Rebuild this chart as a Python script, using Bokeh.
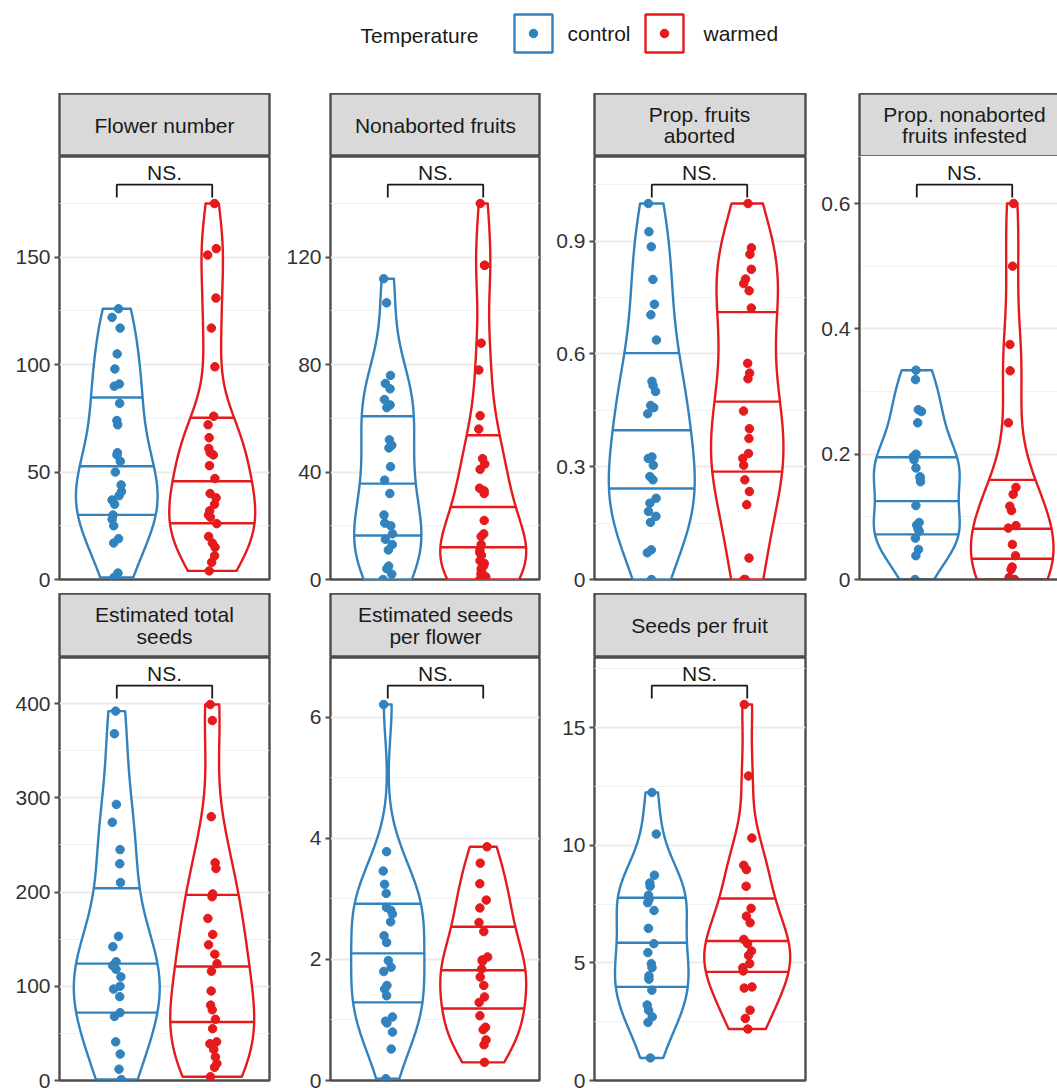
import numpy as np
from bokeh.plotting import figure
from bokeh.layouts import column, row
from bokeh.models import Range1d, FixedTicker, LinearAxis, ColumnDataSource, CustomJSTickFormatter
from bokeh.transform import jitter
from bokeh.core.properties import value
from bokeh.embed import file_html
from bokeh.resources import INLINE

# ---------------- data ----------------
groups = ["control", "warmed"]

flower_control = [126, 122, 117, 105, 98, 91, 90, 82, 74, 72, 59, 58, 55, 50, 44, 41, 39, 37, 35, 30, 28, 25, 19, 17, 3, 1]
flower_warmed = [175, 154, 151, 131, 117, 99, 76, 72, 66, 61, 59, 58, 53, 47, 40, 38, 35, 32, 30, 29, 26, 20, 17, 15, 11, 8, 4]

fruits_control = [112, 103, 76, 73, 71, 67, 65, 64, 52, 50, 49, 42, 37, 32, 24, 21, 20, 17, 15, 13, 11, 5, 4, 2, 0]
fruits_warmed = [140, 117, 117, 88, 78, 61, 56, 45, 43, 41, 34, 33, 32, 22, 17, 16, 13, 11, 10, 9, 7, 6, 5, 4, 3, 2, 1, 0]

aborted_control = [1.0, 0.925, 0.885, 0.798, 0.732, 0.704, 0.637, 0.527, 0.516, 0.500, 0.463, 0.457, 0.441,
                   0.326, 0.322, 0.304, 0.274, 0.265, 0.216, 0.203, 0.181, 0.168, 0.152, 0.079, 0.071, 0.0]
aborted_warmed = [1.0, 0.882, 0.865, 0.825, 0.799, 0.787, 0.768, 0.722, 0.575, 0.549, 0.534, 0.448, 0.401,
                  0.375, 0.335, 0.322, 0.304, 0.265, 0.234, 0.199, 0.057, 0.0, 0.0]

infested_control = [0.334, 0.319, 0.271, 0.268, 0.250, 0.200, 0.196, 0.191, 0.178, 0.164, 0.162, 0.156, 0.118,
                    0.091, 0.087, 0.081, 0.077, 0.066, 0.048, 0.038, 0.0]
infested_warmed = [0.6, 0.5, 0.375, 0.333, 0.25, 0.147, 0.136, 0.117, 0.110, 0.086, 0.082, 0.056, 0.038,
                   0.020, 0.016, 0.003, 0.0, 0.0, 0.0]

seeds_control = [392, 368, 293, 274, 245, 230, 210, 153, 142, 126, 122, 118, 110, 100, 97, 89, 72, 68, 41, 28, 12, 1]
seeds_warmed = [399, 382, 280, 231, 225, 198, 195, 172, 155, 144, 134, 124, 116, 95, 80, 75, 65, 55, 41, 39, 33,
                25, 18, 14, 4]

perflower_control = [6.21, 3.78, 3.46, 3.24, 3.09, 2.86, 2.81, 2.75, 2.62, 2.39, 2.28, 1.98, 1.87, 1.80, 1.57,
                     1.51, 1.40, 1.05, 0.98, 0.95, 0.80, 0.52, 0.03]
perflower_warmed = [3.86, 3.59, 3.25, 2.98, 2.85, 2.61, 2.46, 2.04, 1.99, 1.97, 1.84, 1.71, 1.57, 1.38, 1.29,
                    1.07, 0.88, 0.84, 0.67, 0.59, 0.30]

perfruit_control = [12.25, 10.48, 8.73, 8.40, 8.26, 7.88, 7.70, 7.56, 7.23, 6.47, 5.82, 5.44, 4.97, 4.80, 4.45,
                    4.31, 3.84, 3.21, 2.99, 2.71, 2.47, 0.96]
perfruit_warmed = [15.99, 12.95, 10.31, 9.15, 8.97, 8.26, 7.32, 6.99, 6.71, 6.00, 5.82, 5.51, 5.32, 4.97, 4.80,
                   4.66, 3.98, 3.93, 2.99, 2.64, 2.19]

# 25th / 50th / 75th percentile lines drawn inside each violin
quart_flower_control = [30.1, 52.7, 84.7]
quart_flower_warmed = [26.2, 45.7, 75.3]
quart_fruits_control = [16.4, 35.7, 60.8]
quart_fruits_warmed = [12.0, 27.0, 53.7]
quart_aborted_control = [0.242, 0.397, 0.602]
quart_aborted_warmed = [0.287, 0.473, 0.711]
quart_infested_control = [0.072, 0.125, 0.195]
quart_infested_warmed = [0.033, 0.081, 0.159]
quart_seeds_control = [72, 124, 204]
quart_seeds_warmed = [62, 121, 197]
quart_perflower_control = [1.29, 2.10, 2.92]
quart_perflower_warmed = [1.19, 1.82, 2.54]
quart_perfruit_control = [3.98, 5.86, 7.77]
quart_perfruit_warmed = [4.62, 5.93, 7.74]

titles = ["Flower number", "Nonaborted fruits", "Prop. fruits\naborted", "Prop. nonaborted\nfruits infested",
          "Estimated total\nseeds", "Estimated seeds\nper flower", "Seeds per fruit"]

ticks_flower = [0, 50, 100, 150]
ticks_fruits = [0, 40, 80, 120]
ticks_aborted = [0, 0.3, 0.6, 0.9]
ticks_infested = [0, 0.2, 0.4, 0.6]
ticks_seeds = [0, 100, 200, 300, 400]
ticks_perflower = [0, 2, 4, 6]
ticks_perfruit = [0, 5, 10, 15]

labels_flower = ["0", "50", "100", "150"]
labels_fruits = ["0", "40", "80", "120"]
labels_aborted = ["0", "0.3", "0.6", "0.9"]
labels_infested = ["0", "0.2", "0.4", "0.6"]
labels_seeds = ["0", "100", "200", "300", "400"]
labels_perflower = ["0", "2", "4", "6"]
labels_perfruit = ["0", "5", "10", "15"]

significance = ["NS.", "NS.", "NS.", "NS.", "NS.", "NS.", "NS."]

# ---------------- style ----------------
FONT = value("Liberation Sans")
COLORS = {"control": "#3182BD", "warmed": "#E41A1C"}
BORDER = "#4D4D4D"
TEXT = "#1A1A1A"
FS = "21px"
LW = 2.4

panels = [
    (titles[0], flower_control, flower_warmed, quart_flower_control, quart_flower_warmed, ticks_flower, labels_flower),
    (titles[1], fruits_control, fruits_warmed, quart_fruits_control, quart_fruits_warmed, ticks_fruits, labels_fruits),
    (titles[2], aborted_control, aborted_warmed, quart_aborted_control, quart_aborted_warmed, ticks_aborted, labels_aborted),
    (titles[3], infested_control, infested_warmed, quart_infested_control, quart_infested_warmed, ticks_infested, labels_infested),
    (titles[4], seeds_control, seeds_warmed, quart_seeds_control, quart_seeds_warmed, ticks_seeds, labels_seeds),
    (titles[5], perflower_control, perflower_warmed, quart_perflower_control, quart_perflower_warmed, ticks_perflower, labels_perflower),
    (titles[6], perfruit_control, perfruit_warmed, quart_perfruit_control, quart_perfruit_warmed, ticks_perfruit, labels_perfruit),
]

# cell geometry: (figure width, left border, right border)
cells = [(280, 59, 11), (270, 50, 11), (265, 44, 10), (242, 44, 0)]
PX_PER_UNIT = 210 / 2.2


def density(vals, n=512):
    """Gaussian KDE with Silverman's rule, trimmed to the data range."""
    v = np.asarray(vals, float)
    m = len(v)
    sd = v.std(ddof=1)
    q75, q25 = np.percentile(v, [75, 25])
    iqr = q75 - q25
    lo = min(sd, iqr / 1.34) if iqr > 0 else sd
    bw = 0.9 * lo * m ** -0.2
    y = np.linspace(v.min(), v.max(), n)
    d = np.exp(-0.5 * ((y[:, None] - v[None, :]) / bw) ** 2).sum(1) / (m * bw * np.sqrt(2 * np.pi))
    return y, d


def line_only_axis(fig, side):
    ax = LinearAxis(ticker=FixedTicker(ticks=[]), axis_line_color=BORDER, axis_line_width=LW,
                    major_tick_line_color=None, minor_tick_line_color=None,
                    major_label_text_font_size="0px", major_label_standoff=0,
                    major_tick_out=0, major_tick_in=0, minor_tick_out=0, minor_tick_in=0)
    fig.add_layout(ax, side)


def make_strip(title, cell, height, open_right):
    w, left, right = cell
    xmax = 0.4 + (w - left - right) / PX_PER_UNIT
    s = figure(width=w, height=height, x_range=Range1d(0.4, xmax), y_range=Range1d(0, 1),
               output_backend="svg", toolbar_location=None,
               min_border_left=left, min_border_right=right, min_border_top=0, min_border_bottom=0,
               background_fill_color="#D9D9D9", border_fill_color="white")
    s.axis.visible = False
    s.grid.visible = False
    if open_right:
        s.outline_line_color = None
        line_only_axis(s, "left")
        line_only_axis(s, "above")
        line_only_axis(s, "below")
    else:
        s.outline_line_color = BORDER
        s.outline_line_width = LW
    s.text(x=[1.5], y=[0.5], text=[title], text_font=FONT, text_font_size=FS, text_color=TEXT,
           text_align="center", text_baseline="middle", text_line_height=0.92)
    return s


def make_panel(spec, sig, cell, height, bottom, open_right):
    title, ctrl, warm, q_ctrl, q_warm, ticks, labels = spec
    w, left, right = cell
    xmax = 0.4 + (w - left - right) / PX_PER_UNIT
    ymax = max(max(ctrl), max(warm))
    top = 1.125 * ymax
    p = figure(width=w, height=height, x_range=Range1d(0.4, xmax), y_range=Range1d(0, top),
               output_backend="svg", toolbar_location=None,
               min_border_left=left, min_border_right=right, min_border_top=0, min_border_bottom=bottom,
               background_fill_color="white", border_fill_color="white")
    p.xaxis.visible = False
    p.xgrid.visible = False
    minor = [(a + b) / 2 for a, b in zip(ticks[:-1], ticks[1:])]
    minor.append(ticks[-1] + (ticks[1] - ticks[0]) / 2)
    yax = p.yaxis[0]
    yax.ticker = FixedTicker(ticks=ticks, minor_ticks=minor)
    yax.formatter = CustomJSTickFormatter(args=dict(label_list=labels, tick_list=ticks),
                                          code="const i = tick_list.indexOf(tick); return i >= 0 ? label_list[i] : '';")
    yax.major_label_text_font = "Liberation Sans"
    yax.major_label_text_font_size = FS
    yax.major_label_text_color = "#333333"
    yax.major_label_standoff = 4
    yax.major_tick_out = 5
    yax.major_tick_in = 0
    yax.major_tick_line_color = BORDER
    yax.major_tick_line_width = 2
    yax.minor_tick_line_color = None
    p.ygrid.grid_line_color = "#EBEBEB"
    p.ygrid.grid_line_width = 2
    p.ygrid.minor_grid_line_color = "#F2F2F2"
    p.ygrid.minor_grid_line_width = 1.2
    p.ygrid.ticker = FixedTicker(ticks=ticks, minor_ticks=minor)

    if open_right:
        p.outline_line_color = None
        yax.axis_line_color = BORDER
        yax.axis_line_width = LW
        line_only_axis(p, "below")
    else:
        yax.axis_line_color = None
        p.outline_line_color = BORDER
        p.outline_line_width = LW

    dens = [density(ctrl), density(warm)]
    dmax = max(d.max() for _, d in dens)
    for i, (grp, quart, (y, d)) in enumerate(zip(groups, [q_ctrl, q_warm], dens)):
        col = COLORS[grp]
        xc = i + 1
        hw = 0.45 * d / dmax
        xs = np.concatenate([xc - hw, (xc + hw)[::-1], [xc - hw[0]]])
        ys = np.concatenate([y, y[::-1], [y[0]]])
        p.patch(xs, ys, fill_color="white", line_color=col, line_width=LW, line_join="round")
        qy = np.asarray(quart, float)
        qw = np.interp(qy, y, hw)
        p.segment(x0=xc - qw, y0=qy, x1=xc + qw, y1=qy, line_color=col, line_width=LW)
    for i, (grp, vals) in enumerate(zip(groups, [ctrl, warm])):
        src = ColumnDataSource(dict(x=[i + 1] * len(vals), y=vals))
        p.scatter(x=jitter("x", width=0.1), y="y", source=src, size=8.5,
                  fill_color=COLORS[grp], line_color=COLORS[grp])

    # significance bracket
    by = 1.05 * ymax
    tip = by - 0.03 * top
    p.line(x=[1, 1, 2, 2], y=[tip, by, by, tip], line_color=TEXT, line_width=1.8)
    p.text(x=[1.5], y=[by + 12 * top / 423], text=[sig], text_font=FONT, text_font_size=FS,
           text_color=TEXT, text_align="center", text_baseline="middle")
    return p


# ---------------- legend ----------------
leg = figure(width=1057, height=93, x_range=Range1d(0, 1057), y_range=Range1d(93, 0),
             output_backend="svg", toolbar_location=None, min_border=0,
             background_fill_color="white", border_fill_color="white")
leg.axis.visible = False
leg.grid.visible = False
leg.outline_line_color = None
leg.text(x=[360], y=[35], text=["Temperature"], text_font=FONT, text_font_size=FS, text_color=TEXT,
         text_align="left", text_baseline="middle")
key_x = [533, 664]
label_x = [567, 703]
for grp, kx, lx in zip(groups, key_x, label_x):
    leg.rect(x=[kx], y=[33], width=[38], height=[38], fill_color="white",
             line_color=COLORS[grp], line_width=LW)
    leg.scatter(x=[kx], y=[33], size=8.5, fill_color=COLORS[grp], line_color=COLORS[grp])
    leg.text(x=[lx], y=[33], text=[grp], text_font=FONT, text_font_size=FS, text_color=TEXT,
             text_align="left", text_baseline="middle")

# ---------------- grid of facets ----------------
strips1 = [make_strip(panels[i][0], cells[i], 63, i == 3) for i in range(4)]
row1 = [make_panel(panels[i], significance[i], cells[i], 437, 14, i == 3) for i in range(4)]
strips2 = [make_strip(panels[4 + i][0], cells[i], 64, False) for i in range(3)]
row2 = [make_panel(panels[4 + i], significance[4 + i], cells[i], 431, 8, False) for i in range(3)]

layout = column(leg, row(*strips1), row(*row1), row(*strips2), row(*row2))

open("out.html", "w").write(file_html(layout, INLINE))
